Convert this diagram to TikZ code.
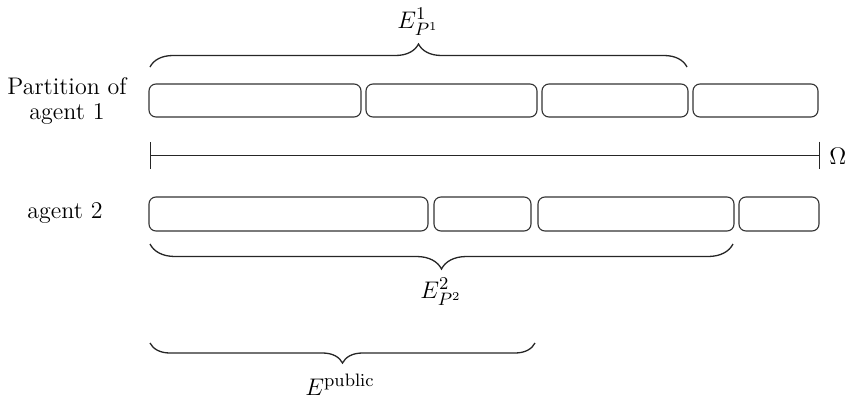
\documentclass[tikz,border=0pt]{standalone}
\usetikzlibrary{decorations.pathreplacing,arrows.meta}
\begin{document}
\begin{tikzpicture}[x=0.5pt,y=-0.5pt,
  cell/.style={draw=black!80,line width=0.55pt,rounded corners=3.5pt,inner sep=0pt,outer sep=0pt,minimum height=16.5pt},
  bracket/.style={draw=black!85,line width=0.65pt,decorate,decoration={brace,amplitude=#1,aspect=0.5}},
  lbl/.style={font=\fontsize{12}{12.5}\selectfont,align=center,inner sep=0pt},
  mlbl/.style={font=\fontsize{12.5}{14}\selectfont,inner sep=0pt}]
\useasboundingbox (0,0) rectangle (853,402);
% labels
\node[lbl] (p1) at (67,101) {Partition of\\agent 1};
\node[lbl] (p2) at (65,213) {agent 2};
% row 1
\node[cell,minimum width=106pt] (a1) at (255,100.5) {};
\node[cell,minimum width=85.5pt] (a2) at (451.5,100.5) {};
\node[cell,minimum width=73pt] (a3) at (615,100.5) {};
\node[cell,minimum width=62.5pt] (a4) at (755.5,100.5) {};
% row 2
\node[cell,minimum width=139.5pt,minimum height=17pt] (b1) at (288.5,214) {};
\node[cell,minimum width=48.5pt,minimum height=17pt] (b2) at (482.5,214) {};
\node[cell,minimum width=98pt,minimum height=17pt] (b3) at (636,214) {};
\node[cell,minimum width=40pt,minimum height=17pt] (b4) at (779,214) {};
% Omega line
\coordinate (o1) at (150,155);
\coordinate (o2) at (820,155);
\draw[black!85,line width=0.5pt,{Bar[width=13.5pt]}-{Bar[width=13.5pt]}] (o1) -- (o2);
\node[mlbl,anchor=west] (om) at (829,156) {$\Omega$};
% braces
\coordinate (t1) at (150,67);
\coordinate (t2) at (687,67);
\draw[bracket=11.5pt] (t1) -- (t2);
\node[mlbl] (e1) at (418,22) {$E^{1}_{P^{1}}$};
\coordinate (m1) at (733,244);
\coordinate (m2) at (150,244);
\draw[bracket=12.5pt] (m1) -- (m2);
\node[mlbl] (e2) at (441,292) {$E^{2}_{P^{2}}$};
\coordinate (n1) at (535,343);
\coordinate (n2) at (150,343);
\draw[bracket=10pt] (n1) -- (n2);
\node[mlbl] (e3) at (340,385) {$E^{\mathrm{public}}$};
\end{tikzpicture}
\end{document}
